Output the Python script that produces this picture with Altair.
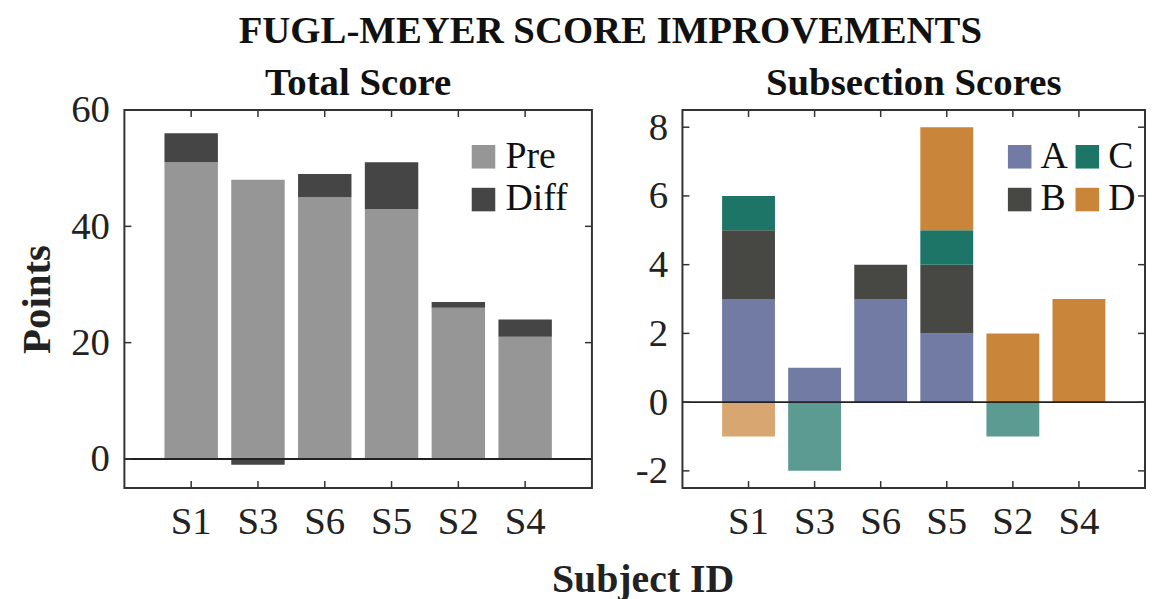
import altair as alt
import pandas as pd

subjects = ["S1", "S3", "S6", "S5", "S2", "S4"]
pre = [51, 48, 45, 43, 26, 21]
diff = [5, -1, 4, 8, 1, 3]
sub_a = [3, 1, 3, 2, 0, 0]
sub_b = [2, 0, 1, 2, 0, 0]
sub_c = [1, -2, 0, 1, -1, 0]
sub_d = [-1, 0, 0, 3, 2, 3]
left_ticks = [0, 20, 40, 60]
right_ticks = [-2, 0, 2, 4, 6, 8]

FONT = "Liberation Serif"
FRAME = "#333333"
W1, W2, H = 470, 465, 380
TL = 7

rows = []
for i, s in enumerate(subjects):
    rows.append({"subject": s, "part": "Pre", "value": pre[i], "k": 0})
    rows.append({"subject": s, "part": "Diff", "value": diff[i], "k": 1})
left_df = pd.DataFrame(rows)

rows = []
for i, s in enumerate(subjects):
    for k, (name, arr) in enumerate([("A", sub_a), ("B", sub_b), ("C", sub_c), ("D", sub_d)]):
        if arr[i] != 0:
            rows.append({"subject": s, "part": name, "value": arr[i], "k": k})
right_df = pd.DataFrame(rows)

subj_df = pd.DataFrame({"subject": subjects})


def panel(df, ticks, domain, width, colors_dom, colors_rng, legend, xaxis, yaxis, title, toff, neg_fade):
    xsc = alt.Scale(paddingInner=0.2, paddingOuter=0.6)
    ysc = alt.Scale(domain=domain, nice=False, zero=False)
    x = alt.X("subject:N", sort=subjects, scale=xsc, axis=xaxis)
    opacity = alt.condition("datum.value < 0", alt.value(0.72), alt.value(1.0)) if neg_fade else alt.value(1.0)
    bars = alt.Chart(df).mark_bar().encode(
        x=x,
        y=alt.Y("value:Q", stack="zero", scale=ysc, axis=yaxis),
        color=alt.Color("part:N", scale=alt.Scale(domain=colors_dom, range=colors_rng), legend=legend),
        order=alt.Order("k:Q"),
        opacity=opacity,
    )
    tdf = pd.DataFrame({"value": ticks})
    xs = alt.X("subject:N", sort=subjects)
    ys = alt.Y("value:Q")
    yt_l = alt.Chart(tdf).mark_rule(color=FRAME, strokeWidth=1.5).encode(y=ys, x=alt.value(0), x2=alt.value(TL))
    yt_r = alt.Chart(tdf).mark_rule(color=FRAME, strokeWidth=1.5).encode(y=ys, x=alt.value(width - TL), x2=alt.value(width))
    xt_b = alt.Chart(subj_df).mark_rule(color=FRAME, strokeWidth=1.5).encode(x=xs, y=alt.value(H), y2=alt.value(H - TL))
    xt_t = alt.Chart(subj_df).mark_rule(color=FRAME, strokeWidth=1.5).encode(x=xs, y=alt.value(0), y2=alt.value(TL))
    zero = alt.Chart(pd.DataFrame({"value": [0]})).mark_rule(color="#222222", strokeWidth=2).encode(
        y=ys, x=alt.value(0), x2=alt.value(width))
    return alt.layer(bars, zero, yt_l, yt_r, xt_b, xt_t).properties(
        width=width, height=H,
        title=alt.TitleParams(title, font=FONT, fontSize=39, fontWeight="bold", color="#111111", offset=toff),
    )


left = panel(
    left_df, left_ticks, [-5, 60], W1,
    ["Pre", "Diff"], ["#969696", "#454545"],
    alt.Legend(orient="none", legendX=342, legendY=28, title=None, labelOffset=3),
    alt.Axis(title="Subject ID", titleX=521, titleY=104, titleBaseline="alphabetic",
             titleFontSize=40, titleFontWeight="bold", titleFont=FONT, titleColor="#222222"),
    alt.Axis(values=left_ticks, title="Points", titleFontSize=41, titleFontWeight="bold",
             titleFont=FONT, titleColor="#222222", titlePadding=12, labelExpr="'' + datum.value"),
    "Total Score", -12, False,
)

right = panel(
    right_df, right_ticks, [-2.5, 8.5], W2,
    ["A", "B", "C", "D"], ["#717ba3", "#474843", "#1c7566", "#c9853a"],
    alt.Legend(orient="none", legendX=320, legendY=28, title=None, columns=2, columnPadding=0, labelOffset=2),
    alt.Axis(title=None),
    alt.Axis(values=right_ticks, title=None, labelExpr="'' + datum.value"),
    "Subsection Scores", 5, True,
)

chart = alt.hconcat(left, right, spacing=91, bounds="flush").resolve_scale(
    color="independent", x="independent", y="independent"
).properties(
    title=alt.TitleParams("FUGL-MEYER SCORE IMPROVEMENTS", font=FONT, fontSize=39, fontWeight="bold",
                          color="#111111", anchor="middle", offset=12, dx=29),
    padding={"left": 8, "top": 3, "right": 0, "bottom": 0},
).configure_view(stroke=FRAME, strokeWidth=2).configure_axis(
    domain=False, ticks=False, grid=False, labelFont=FONT, labelFontSize=39, labelColor="#222222",
    labelPadding=15, labelAngle=0,
).configure_legend(
    labelFont=FONT, labelFontSize=38, labelColor="#111111", symbolType="square", symbolSize=560,
    symbolStrokeWidth=0, symbolOpacity=1, rowPadding=5,
)

chart.save("out.html", embed_options={"renderer": "svg", "actions": False})
